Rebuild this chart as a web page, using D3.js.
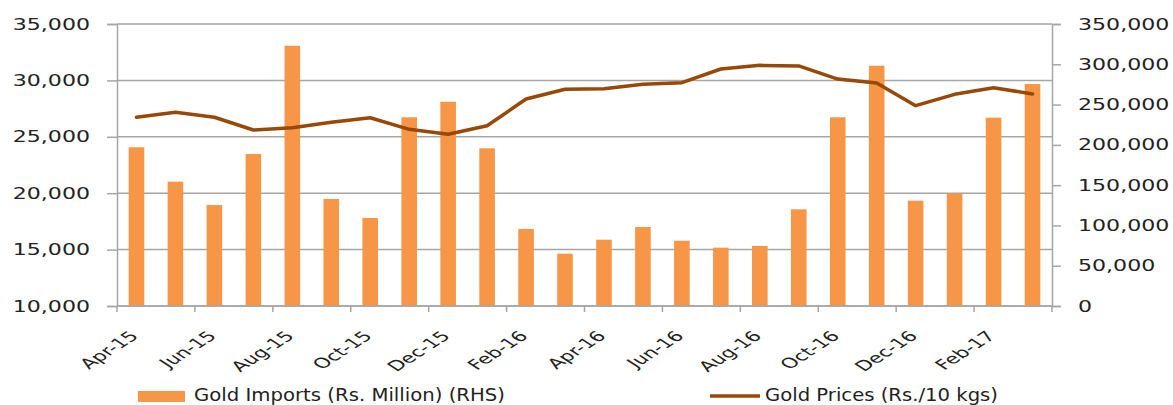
<!DOCTYPE html>
<html>
<head>
<meta charset="utf-8">
<script src="https://cdn.jsdelivr.net/npm/d3@7"></script>
<style>
  body { margin: 0; background: #fff; }
  svg { display: block; }
</style>
</head>
<body>
<div id="chart"></div>
<script>
// Months, Apr-15 .. Mar-17
const months = ["Apr-15", "May-15", "Jun-15", "Jul-15", "Aug-15", "Sep-15", "Oct-15", "Nov-15",
  "Dec-15", "Jan-16", "Feb-16", "Mar-16", "Apr-16", "May-16", "Jun-16", "Jul-16", "Aug-16",
  "Sep-16", "Oct-16", "Nov-16", "Dec-16", "Jan-17", "Feb-17", "Mar-17"];

// Gold imports (Rs. Million), right axis
const imports = [197000, 154300, 125300, 188600, 323000, 132800, 109200, 234200,
  253500, 195700, 95600, 64900, 82300, 98000, 81000, 72400, 74500,
  120000, 234200, 298200, 130700, 139800, 233700, 275500];

// Gold prices (Rs./10 gms), left axis
const prices = [26730, 27170, 26730, 25600, 25800, 26290, 26690, 25660,
  25220, 25985, 28350, 29210, 29265, 29650, 29800, 31010, 31335,
  31280, 30120, 29770, 27760, 28765, 29355, 28795];

const leftTicks = [10000, 15000, 20000, 25000, 30000, 35000];
const rightTicks = [0, 50000, 100000, 150000, 200000, 250000, 300000, 350000];

const width = 1173;
const height = 405;
const marginLeft = 117;
const marginRight = 121;
const marginTop = 24;
const marginBottom = 99;

const barColor = "#f79646";
const lineColor = "#984807";
const gridColor = "#a6a6a6";
const textColor = "#222";
const font = "DejaVu Sans, Verdana, sans-serif";

const x = d3.scaleBand()
  .domain(months)
  .range([marginLeft, width - marginRight])
  .paddingInner(0.6)
  .paddingOuter(0.3);

const yL = d3.scaleLinear([10000, 35000], [height - marginBottom, marginTop]);
const yR = d3.scaleLinear([0, 350000], [height - marginBottom, marginTop]);

const svg = d3.select("#chart").append("svg")
  .attr("width", width)
  .attr("height", height)
  .attr("viewBox", [0, 0, width, height]);

// stretch text horizontally, the source picture is wider than tall
function stretch(sel, k) {
  sel.each(function () {
    const w = this.getComputedTextLength();
    d3.select(this).attr("textLength", w * k).attr("lengthAdjust", "spacingAndGlyphs");
  });
}

// gridlines
svg.append("g")
  .selectAll("line")
  .data(leftTicks)
  .join("line")
  .attr("x1", marginLeft)
  .attr("x2", width - marginRight)
  .attr("y1", d => yL(d))
  .attr("y2", d => yL(d))
  .attr("stroke", gridColor)
  .attr("stroke-width", 1.5);

// bars
svg.append("g")
  .attr("fill", barColor)
  .selectAll("rect")
  .data(months)
  .join("rect")
  .attr("x", d => x(d))
  .attr("width", x.bandwidth())
  .attr("y", (d, i) => yR(imports[i]))
  .attr("height", (d, i) => yR(0) - yR(imports[i]));

// line
const line = d3.line()
  .x((d, i) => x(months[i]) + x.bandwidth() / 2)
  .y(d => yL(d));

svg.append("path")
  .datum(prices)
  .attr("fill", "none")
  .attr("stroke", lineColor)
  .attr("stroke-width", 3.5)
  .attr("stroke-linejoin", "round")
  .attr("stroke-linecap", "round")
  .attr("d", line);

// left axis
const gL = svg.append("g")
  .attr("transform", `translate(${marginLeft},0)`)
  .call(d3.axisLeft(yL).tickValues(leftTicks).tickSize(10).tickPadding(17).tickFormat(d3.format(",")));
gL.select(".domain").attr("stroke", gridColor).attr("stroke-width", 1.5);
gL.selectAll(".tick line").attr("stroke", gridColor).attr("stroke-width", 1.5);
gL.selectAll("text")
  .attr("fill", textColor)
  .style("font-family", font)
  .style("font-size", "16px")
  .call(stretch, 1.38);

// right axis
const gR = svg.append("g")
  .attr("transform", `translate(${width - marginRight},0)`)
  .call(d3.axisRight(yR).tickValues(rightTicks).tickSize(9).tickPadding(17).tickFormat(d3.format(",")));
gR.select(".domain").attr("stroke", gridColor).attr("stroke-width", 1.5);
gR.selectAll(".tick line").attr("stroke", gridColor).attr("stroke-width", 1.5);
gR.selectAll("text")
  .attr("fill", textColor)
  .style("font-family", font)
  .style("font-size", "16px")
  .call(stretch, 1.38);

// bottom axis: ticks on every second category boundary, labels on every second month
const baseY = height - marginBottom;
const boundaries = d3.range(0, months.length + 1, 2);
const gB = svg.append("g");
gB.append("line")
  .attr("x1", marginLeft)
  .attr("x2", width - marginRight)
  .attr("y1", baseY)
  .attr("y2", baseY)
  .attr("stroke", gridColor)
  .attr("stroke-width", 1.5);
gB.selectAll(".tk")
  .data(boundaries)
  .join("line")
  .attr("class", "tk")
  .attr("x1", i => x.range()[0] + i * x.step())
  .attr("x2", i => x.range()[0] + i * x.step())
  .attr("y1", baseY)
  .attr("y2", baseY + 6)
  .attr("stroke", gridColor)
  .attr("stroke-width", 1.5);
// rotated labels, widened like the rest of the picture
gB.selectAll("text")
  .data(months.filter((d, i) => i % 2 === 0))
  .join("text")
  .attr("transform", d => `translate(${x(d) + x.bandwidth() / 2 + 3},${baseY + 31}) scale(1.55,1) rotate(-45)`)
  .attr("text-anchor", "end")
  .attr("fill", textColor)
  .style("font-family", font)
  .style("font-size", "14px")
  .text(d => d);

// legend
const legend = svg.append("g")
  .style("font-family", font)
  .style("font-size", "18px")
  .attr("fill", textColor);

legend.append("rect")
  .attr("x", 138)
  .attr("y", 391)
  .attr("width", 47)
  .attr("height", 11)
  .attr("fill", barColor);
legend.append("text")
  .attr("x", 194)
  .attr("y", 401)
  .attr("textLength", 311)
  .attr("lengthAdjust", "spacingAndGlyphs")
  .text("Gold Imports (Rs. Million) (RHS)");

legend.append("line")
  .attr("x1", 710)
  .attr("x2", 760)
  .attr("y1", 396)
  .attr("y2", 396)
  .attr("stroke", lineColor)
  .attr("stroke-width", 3.5);
legend.append("text")
  .attr("x", 765)
  .attr("y", 401)
  .attr("textLength", 233)
  .attr("lengthAdjust", "spacingAndGlyphs")
  .text("Gold Prices (Rs./10 kgs)");
</script>
</body>
</html>
